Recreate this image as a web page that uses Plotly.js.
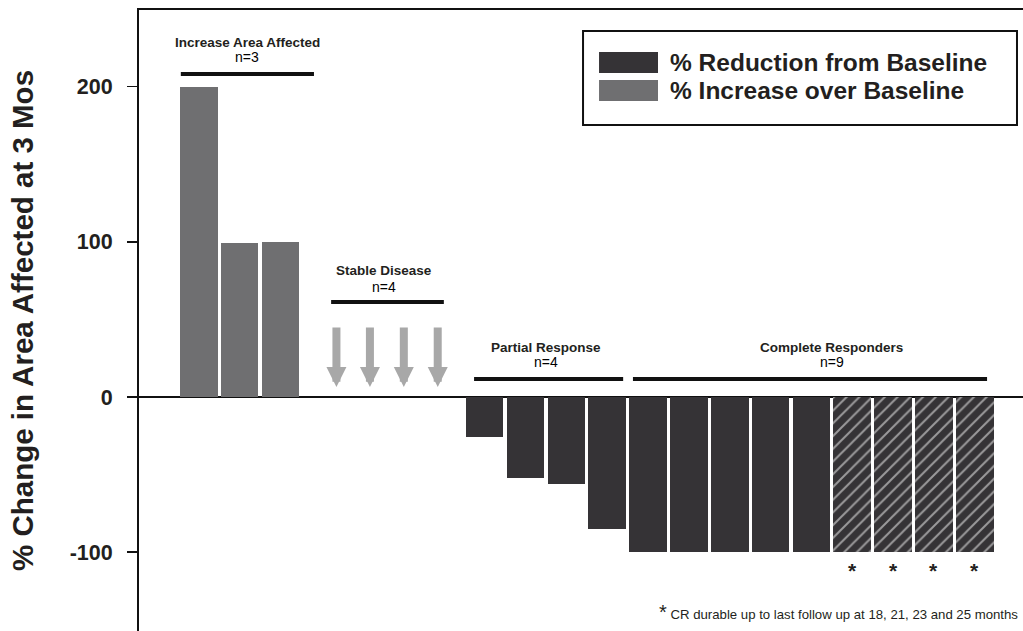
<!DOCTYPE html>
<html>
<head>
<meta charset="utf-8">
<script src="https://cdn.plot.ly/plotly-3.0.1.min.js"></script>
<style>html,body{margin:0;padding:0;background:#fff;}#chart{width:1023px;height:631px;}</style>
</head>
<body>
<div id="chart"></div>
<script>
// ---------------- DATA ----------------
const increaseVals = [200, 99.5, 100];              // % increase over baseline (n=3)
const stableCount = 4;                              // stable disease (arrows)
const partialVals = [-26, -52, -56, -85];           // partial response (n=4)
const completeVals = [-100, -100, -100, -100, -100, -100, -100, -100, -100]; // complete responders (n=9)
const durable = [false, false, false, false, false, true, true, true, true];  // CR durable (hatched, *)
const groupNames = ['Increase Area Affected', 'Stable Disease', 'Partial Response', 'Complete Responders'];
const groupN = [3, 4, 4, 9];
const legendNames = ['% Reduction from Baseline', '% Increase over Baseline'];
const yTicks = [200, 100, 0, -100];
const footnote = 'CR durable up to last follow up at 18, 21, 23 and 25 months';

// ---------------- LAYOUT HELPERS ----------------
const FONT = 'Liberation Sans, Arial, Helvetica, sans-serif';
const DARK = '#353336', GRAY = '#6f6f71', ARROW = '#a8a8a8', INK = '#231f20';
const BARW = 0.92;
// slot positions along x
const incX = increaseVals.map((v, i) => i);
const stableX = [3.37, 4.19, 5.02, 5.85];
const prStart = 7;
const prX = partialVals.map((v, i) => prStart + i);
const crStart = prStart + partialVals.length;
const crX = completeVals.map((v, i) => crStart + i);

const solidCRx = crX.filter((x, i) => !durable[i]);
const solidCRy = completeVals.filter((v, i) => !durable[i]);
const hatchCRx = crX.filter((x, i) => durable[i]);
const hatchCRy = completeVals.filter((v, i) => durable[i]);

const traces = [
  {type: 'bar', x: incX, y: increaseVals, width: BARW, marker: {color: GRAY, line: {width: 0}}, showlegend: false, hoverinfo: 'y'},
  {type: 'bar', x: prX.concat(solidCRx), y: partialVals.concat(solidCRy), width: BARW, marker: {color: DARK, line: {width: 0}}, showlegend: false, hoverinfo: 'y'},
  {type: 'bar', x: hatchCRx, y: hatchCRy, width: BARW,
   marker: {color: DARK, line: {width: 0}, pattern: {shape: '/', fgcolor: '#ffffff', bgcolor: DARK, size: 9, solidity: 0.22, fillmode: 'overlay'}},
   showlegend: false, hoverinfo: 'y'}
];

// group labels + lines (layout positions)
const grpLabelX = [1.19, 4.53, 8.51, 15.5];
const grpLabelY1 = [228.7, 81.8, 32.2, 32.2];
const grpLabelY2 = [219.0, 70.9, 22.6, 22.6];
const grpLineX0 = [-0.44, 3.24, 6.74, 10.63];
const grpLineX1 = [2.82, 6.0, 10.39, 19.30];
const grpLineY = [208.1, 61.2, 11.6, 11.6];

const annotations = [];
const shapes = [];
groupNames.forEach((g, i) => {
  annotations.push({x: grpLabelX[i], y: grpLabelY1[i], xref: 'x', yref: 'y', text: '<b>' + g + '</b>', showarrow: false,
    font: {family: FONT, size: 13.5, color: INK}, xanchor: 'center', yanchor: 'middle'});
  annotations.push({x: grpLabelX[i], y: grpLabelY2[i], xref: 'x', yref: 'y', text: 'n=' + groupN[i], showarrow: false,
    font: {family: FONT, size: 14, color: '#000'}, xanchor: 'center', yanchor: 'middle'});
  shapes.push({type: 'line', xref: 'x', yref: 'y', x0: grpLineX0[i], x1: grpLineX1[i], y0: grpLineY[i], y1: grpLineY[i],
    line: {color: '#111', width: 4}});
});

// stable disease arrows
for (let i = 0; i < stableCount; i++) {
  annotations.push({x: stableX[i], y: 6.4, xref: 'x', yref: 'y', ax: stableX[i], ay: 45.7, axref: 'x', ayref: 'y',
    text: '', showarrow: true, arrowhead: 2, arrowsize: 0.5, arrowwidth: 8, arrowcolor: ARROW, standoff: 0, startstandoff: 0});
}

// asterisks below durable CR bars
hatchCRx.forEach(x => {
  annotations.push({x: x, y: -112, xref: 'x', yref: 'y', text: '<b>*</b>', showarrow: false,
    font: {family: FONT, size: 21, color: INK}, xanchor: 'center', yanchor: 'middle'});
});

// footnote
annotations.push({x: 1, y: 0.031, xref: 'paper', yref: 'paper', xanchor: 'right', yanchor: 'middle', xshift: -3,
  text: '<span style="font-size:20px">*</span> ' + footnote, showarrow: false, font: {family: FONT, size: 13.2, color: INK}});

// custom legend
shapes.push({type: 'rect', xref: 'paper', yref: 'paper', x0: 0.5023, x1: 0.9932, y0: 0.8148, y1: 0.9662,
  line: {color: '#111', width: 2}, fillcolor: '#fff'});
const legColors = [DARK, GRAY];
const legY0 = [0.8986, 0.8535], legY1 = [0.9324, 0.8873], legTY = [0.9147, 0.8696];
legendNames.forEach((n, i) => {
  shapes.push({type: 'rect', xref: 'paper', yref: 'paper', x0: 0.5204, x1: 0.5871, y0: legY0[i], y1: legY1[i],
    line: {width: 0}, fillcolor: legColors[i]});
  annotations.push({x: 0.5984, y: legTY[i], xref: 'paper', yref: 'paper', xanchor: 'left', yanchor: 'middle',
    text: '<b>' + n + '</b>', showarrow: false, font: {family: FONT, size: 24.5, color: INK}});
});

const layout = {
  width: 1023, height: 631,
  margin: {l: 139, r: 0, t: 10, b: 0, pad: 0},
  paper_bgcolor: '#fff', plot_bgcolor: '#fff',
  showlegend: false,
  bargap: 0,
  xaxis: {range: [-1.464, 20.18], showgrid: false, zeroline: false, showticklabels: false, ticks: '',
    showline: true, side: 'top', linecolor: '#111', linewidth: 2, fixedrange: true},
  yaxis: {range: [-150.8, 249.4], tickvals: yTicks, ticktext: yTicks.map(String), ticks: 'outside', ticklen: 10, tickwidth: 1.5,
    tickcolor: '#111', showline: true, linecolor: '#111', linewidth: 2, showgrid: false,
    zeroline: true, zerolinecolor: '#111', zerolinewidth: 1.5, ticklabelstandoff: 10,
    tickfont: {family: FONT, size: 21.5, color: INK, weight: 'bold'},
    title: {text: '<b>% Change in Area Affected at 3 Mos</b>', font: {family: FONT, size: 29.5, color: INK}, standoff: 27},
    fixedrange: true},
  annotations: annotations,
  shapes: shapes
};

Plotly.newPlot('chart', traces, layout, {displayModeBar: false, staticPlot: true});
</script>
</body>
</html>
